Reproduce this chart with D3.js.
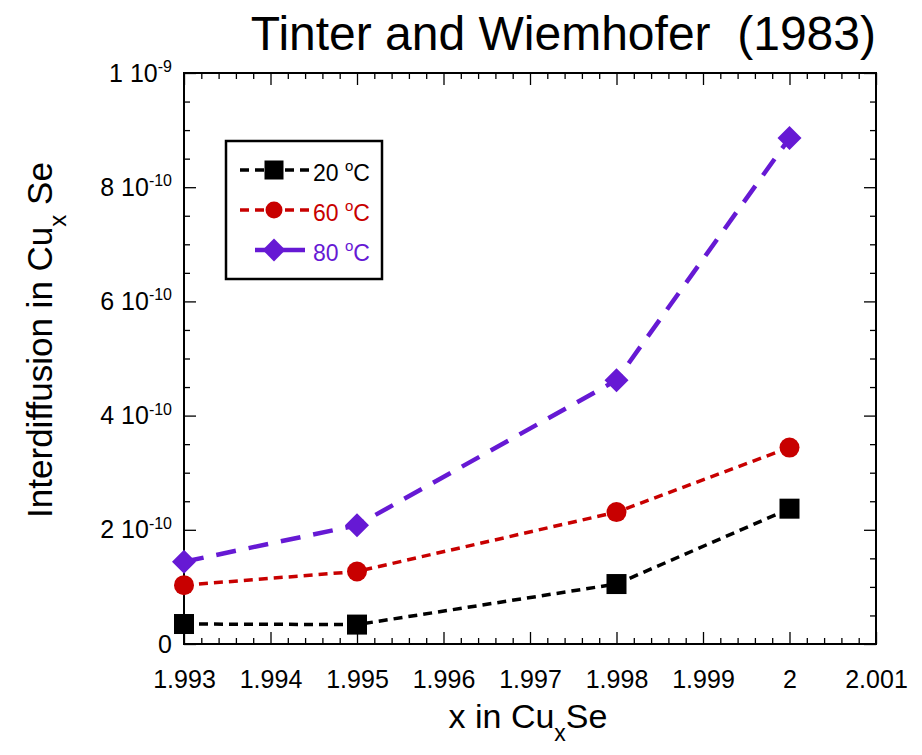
<!DOCTYPE html>
<html>
<head>
<meta charset="utf-8">
<script src="https://cdn.jsdelivr.net/npm/d3@7/dist/d3.min.js"></script>
<style>
  html, body { margin: 0; padding: 0; background: #fff; }
  svg { display: block; font-family: Arial, "Liberation Sans", Helvetica, sans-serif; }
</style>
</head>
<body>
<svg id="chart" width="922" height="755"></svg>
<script>
// Composition x of Cu_x Se
const compositions = [1.993, 1.995, 1.998, 2.000];

// Interdiffusion coefficients (cm^2/s) at each temperature
const d20 = [3.5e-11, 3.4e-11, 1.05e-10, 2.37e-10];
const d60 = [1.03e-10, 1.27e-10, 2.31e-10, 3.44e-10];
const d80 = [1.44e-10, 2.08e-10, 4.62e-10, 8.86e-10];

const seriesNames = ["20", "60", "80"];
const seriesColors = ["#000000", "#c80000", "#6619d4"];

const xMajorTicks = [1.993, 1.994, 1.995, 1.996, 1.997, 1.998, 1.999, 2.000, 2.001];
const xTickLabels = ["1.993", "1.994", "1.995", "1.996", "1.997", "1.998", "1.999", "2", "2.001"];
const yMajorTicks = [0, 2e-10, 4e-10, 6e-10, 8e-10, 1e-9];
const yTickMantissa = ["0", "2", "4", "6", "8", "1"];
const yTickExponent = ["", "-10", "-10", "-10", "-10", "-9"];

const svg = d3.select("#chart");
const plotL = 184, plotR = 876, plotT = 73, plotB = 644;

const x = d3.scaleLinear().domain([1.993, 2.001]).range([plotL, plotR]);
const y = d3.scaleLinear().domain([0, 1e-9]).range([plotB, plotT]);

const xMinor = d3.range(0, 41).map(i => 1.993 + i * 0.0002).filter(v => !xMajorTicks.some(t => Math.abs(t - v) < 1e-9));
const yMinor = d3.range(0, 21).map(i => i * 0.5e-10).filter(v => !yMajorTicks.some(t => Math.abs(t - v) < 1e-15));

// Tick marks pointing inward on all four sides
function tickAxis(axisFn, scale, ticks, size, tr) {
  const g = svg.append("g").attr("transform", tr)
    .call(axisFn(scale).tickValues(ticks).tickSize(size).tickFormat(""));
  g.select(".domain").remove();
  g.selectAll("line").attr("stroke", "#000").attr("stroke-width", 1.3);
  return g;
}
tickAxis(d3.axisBottom, x, xMajorTicks, -12, `translate(0,${plotB})`);
tickAxis(d3.axisBottom, x, xMinor, -6, `translate(0,${plotB})`);
tickAxis(d3.axisTop, x, xMajorTicks, -12, `translate(0,${plotT})`);
tickAxis(d3.axisTop, x, xMinor, -6, `translate(0,${plotT})`);
tickAxis(d3.axisLeft, y, yMajorTicks, -12, `translate(${plotL},0)`);
tickAxis(d3.axisLeft, y, yMinor, -6, `translate(${plotL},0)`);
tickAxis(d3.axisRight, y, yMajorTicks, -12, `translate(${plotR},0)`);
tickAxis(d3.axisRight, y, yMinor, -6, `translate(${plotR},0)`);

// Frame
svg.append("rect").attr("x", plotL).attr("y", plotT)
  .attr("width", plotR - plotL).attr("height", plotB - plotT)
  .attr("fill", "none").attr("stroke", "#000").attr("stroke-width", 2);

// X tick labels
const xl = svg.append("g").attr("transform", `translate(0,${plotB})`)
  .call(d3.axisBottom(x).tickValues(xMajorTicks).tickSize(0).tickPadding(26)
    .tickFormat((d, i) => xTickLabels[i]));
xl.select(".domain").remove();
xl.selectAll("text").attr("font-size", 25).attr("fill", "#000")
  .attr("font-family", "Arial, 'Liberation Sans', sans-serif");

// Y tick labels with superscript exponents
const yl = svg.append("g").attr("transform", `translate(${plotL},0)`)
  .call(d3.axisLeft(y).tickValues(yMajorTicks).tickSize(0).tickPadding(12).tickFormat(""));
yl.select(".domain").remove();
yl.selectAll("text").each(function(d, i) {
  const t = d3.select(this).attr("font-size", 25).attr("fill", "#000")
    .attr("font-family", "Arial, 'Liberation Sans', sans-serif");
  if (yTickExponent[i] === "") {
    t.text(yTickMantissa[i]);
  } else {
    t.append("tspan").text(yTickMantissa[i] + " 10");
    t.append("tspan").attr("font-size", 16).attr("dy", "-0.6em").text(yTickExponent[i]);
  }
});

// Series lines and markers
const dataSets = [d20, d60, d80];
const dashes = ["9,6", "9,6", "20,13"];
const widths = [3.5, 3.5, 4.5];
const line = d3.line().x((d, i) => x(compositions[i])).y(d => y(d));

dataSets.forEach((vals, s) => {
  svg.append("path").datum(vals)
    .attr("d", line).attr("fill", "none")
    .attr("stroke", seriesColors[s]).attr("stroke-width", widths[s])
    .attr("stroke-dasharray", dashes[s]).attr("stroke-linecap", "butt");
});

function drawMarker(g, s, cx, cy, scale) {
  if (s === 0) {
    const h = 10 * scale;
    g.append("rect").attr("x", cx - h).attr("y", cy - h).attr("width", 2 * h).attr("height", 2 * h)
      .attr("fill", seriesColors[s]);
  } else if (s === 1) {
    g.append("circle").attr("cx", cx).attr("cy", cy).attr("r", 10 * scale).attr("fill", seriesColors[s]);
  } else {
    const h = 12 * scale;
    g.append("path").attr("d", `M${cx},${cy - h}L${cx + h},${cy}L${cx},${cy + h}L${cx - h},${cy}Z`)
      .attr("fill", seriesColors[s]);
  }
}

dataSets.forEach((vals, s) => {
  const g = svg.append("g");
  vals.forEach((v, i) => drawMarker(g, s, x(compositions[i]), y(v), 1));
});

// Legend
const legend = svg.append("g");
legend.append("rect").attr("x", 226).attr("y", 141).attr("width", 156).attr("height", 138)
  .attr("fill", "#fff").attr("stroke", "#000").attr("stroke-width", 2.5);
const legendDash = ["9,6", "9,6", null];
const legendStart = [240, 240, 255];
const legendEnd = [309, 309, 305];
seriesNames.forEach((name, s) => {
  const ly = 170 + s * 40;
  const ln = legend.append("line").attr("x1", legendStart[s]).attr("x2", legendEnd[s])
    .attr("y1", ly).attr("y2", ly)
    .attr("stroke", seriesColors[s]).attr("stroke-width", widths[s]);
  if (legendDash[s]) ln.attr("stroke-dasharray", legendDash[s]);
  drawMarker(legend, s, 274, ly, s === 1 ? 0.85 : 0.95);
  const t = legend.append("text").attr("x", 313).attr("y", ly + 11)
    .attr("font-size", 23).attr("fill", seriesColors[s]);
  t.append("tspan").text(name + " ");
  t.append("tspan").attr("font-size", 15).attr("dy", "-0.65em").text("o");
  t.append("tspan").attr("dy", "0.42em").text("C");
});

// Title
svg.append("text").attr("x", 876).attr("y", 50).attr("text-anchor", "end")
  .attr("font-size", 48).attr("fill", "#000").style("white-space", "pre")
  .text("Tinter and Wiemhofer  (1983)");

// Axis titles
const xt = svg.append("text").attr("x", 528).attr("y", 728).attr("text-anchor", "middle")
  .attr("font-size", 34).attr("fill", "#000");
xt.append("tspan").text("x in Cu");
xt.append("tspan").attr("font-size", 23).attr("dy", 13).text("x");
xt.append("tspan").attr("dy", -13).text("Se");

const yt = svg.append("text").attr("transform", "translate(52,340) rotate(-90)")
  .attr("text-anchor", "middle").attr("font-size", 35).attr("fill", "#000");
yt.append("tspan").text("Interdiffusion in Cu");
yt.append("tspan").attr("font-size", 24).attr("dy", 14).text("x");
yt.append("tspan").attr("dy", -14).text(" Se");
</script>
</body>
</html>
